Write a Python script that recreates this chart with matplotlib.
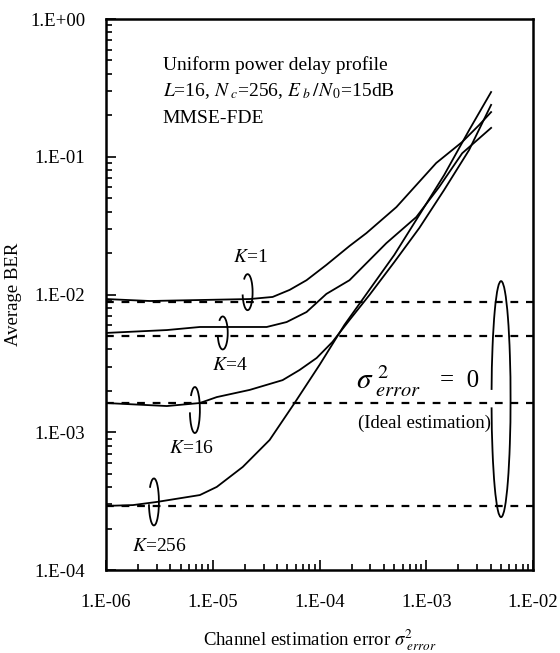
import numpy as np
import matplotlib
matplotlib.use("Agg")
import matplotlib.pyplot as plt
from matplotlib.patches import Arc
from matplotlib.ticker import FuncFormatter, LogLocator, NullFormatter

plt.rcParams['font.family'] = ['Liberation Serif', 'DejaVu Serif']
plt.rcParams['mathtext.fontset'] = 'stix'

# channel estimation error (x) and average BER (y) for each K
k1_x = [1e-6, 2.58e-6, 7.57e-6, 2.22e-5, 3.64e-5, 5.25e-5, 7.56e-5, 1.16e-4, 1.91e-4,
        2.75e-4, 5.25e-4, 1.24e-3, 2.17e-3, 3.13e-3, 4.05e-3]
k1_y = [9.27e-3, 8.97e-3, 9.12e-3, 9.27e-3, 9.6e-3, 1.08e-2, 1.27e-2, 1.64e-2, 2.25e-2,
        2.79e-2, 4.31e-2, 9.01e-2, 0.128, 0.170, 0.211]

k4_x = [1e-6, 3.72e-6, 7.57e-6, 3.2e-5, 4.92e-5, 7.56e-5, 1.16e-4, 1.91e-4, 4.23e-4,
        8.07e-4, 1.32e-3, 2.17e-3, 4.05e-3]
k4_y = [5.26e-3, 5.52e-3, 5.81e-3, 5.81e-3, 6.31e-3, 7.46e-3, 1.01e-2, 1.27e-2, 2.36e-2,
        3.65e-2, 6.03e-2, 0.106, 0.162]

k16_x = [1e-6, 3.72e-6, 7.57e-6, 1.09e-5, 2.22e-5, 4.51e-5, 6.5e-5, 9.4e-5, 1.32e-4,
         1.91e-4, 2.93e-4, 5.02e-4, 8.61e-4, 1.47e-3, 2.52e-3, 4.05e-3]
k16_y = [1.63e-3, 1.55e-3, 1.63e-3, 1.80e-3, 2.03e-3, 2.39e-3, 2.83e-3, 3.46e-3, 4.52e-3,
         6.53e-3, 9.9e-3, 1.72e-2, 3.04e-2, 5.74e-2, 0.112, 0.238]

k256_x = [1e-6, 1.79e-6, 3.0e-6, 7.57e-6, 1.09e-5, 1.91e-5, 3.41e-5, 5.84e-5, 1.0e-4,
          1.71e-4, 2.93e-4, 5.02e-4, 8.61e-4, 1.47e-3, 2.52e-3, 4.05e-3]
k256_y = [2.92e-4, 2.96e-4, 3.12e-4, 3.5e-4, 4.01e-4, 5.6e-4, 8.79e-4, 1.63e-3, 3.08e-3,
          6.01e-3, 1.08e-2, 1.94e-2, 3.78e-2, 7.36e-2, 0.156, 0.295]

# ideal estimation (sigma_error^2 = 0) BER for K = 1, 4, 16, 256
ideal_ber = [8.8e-3, 5.0e-3, 1.63e-3, 2.92e-4]

fig = plt.figure(figsize=(5.6, 6.53), dpi=100)
ax = fig.add_axes([0.1893, 0.1271, 0.7625, 0.8438])

for xs, ys in [(k1_x, k1_y), (k4_x, k4_y), (k16_x, k16_y), (k256_x, k256_y)]:
    ax.plot(xs, ys, color='black', lw=1.3)

for b in ideal_ber:
    ax.plot([1e-6, 1e-2], [b, b], color='black', lw=1.6, ls=(0, (3.5, 3.5)))

ax.set_xscale('log')
ax.set_yscale('log')
ax.set_xlim(1e-6, 1e-2)
ax.set_ylim(1e-4, 1)

fmt = FuncFormatter(lambda v, p: "1.E%+03d" % int(round(np.log10(v))))
ax.xaxis.set_major_formatter(fmt)
ax.yaxis.set_major_formatter(fmt)
ax.xaxis.set_minor_locator(LogLocator(base=10, subs=np.arange(2, 10)))
ax.yaxis.set_minor_locator(LogLocator(base=10, subs=np.arange(2, 10)))
ax.xaxis.set_minor_formatter(NullFormatter())
ax.yaxis.set_minor_formatter(NullFormatter())
ax.tick_params(which='both', direction='in', top=False, right=False, labelsize=13.5, width=1.2)
ax.tick_params(which='major', length=7)
ax.tick_params(which='minor', length=4)
ax.tick_params(axis='x', which='major', pad=17)
ax.tick_params(axis='y', which='major', pad=15)
for s in ax.spines.values():
    s.set_linewidth(1.8)

ax.set_xlabel(r'Channel estimation error $\sigma^{2}_{\ error}$', fontsize=13.5, labelpad=12)
ax.set_ylabel('Average BER', fontsize=13.5, labelpad=6)

ax.text(0.133, 0.916, 'Uniform power delay profile', transform=ax.transAxes,
        fontsize=14, va='center')
ax.text(0.133, 0.869, r'$L$=16, $N_{\ c}$=256, $E_{\ b}\,/N_{\,0}$=15dB', transform=ax.transAxes,
        fontsize=14, va='center')
ax.text(0.133, 0.820, 'MMSE-FDE', transform=ax.transAxes, fontsize=14, va='center')

ax.text(0.338, 0.568, r'$K$=1', transform=ax.transAxes, fontsize=14, ha='center', va='center')
ax.text(0.289, 0.372, r'$K$=4', transform=ax.transAxes, fontsize=14, ha='center', va='center')
ax.text(0.200, 0.221, r'$K$=16', transform=ax.transAxes, fontsize=14, ha='center', va='center')
ax.text(0.126, 0.042, r'$K$=256', transform=ax.transAxes, fontsize=14, ha='center', va='center')

ax.text(0.585, 0.343, r'$\sigma^{\ 2}_{\ error}$', transform=ax.transAxes, fontsize=21, va='center')
ax.text(0.782, 0.343, '=  0', transform=ax.transAxes, fontsize=18, va='center')
ax.text(0.746, 0.267, '(Ideal estimation)', transform=ax.transAxes, fontsize=13.5,
        ha='center', va='center')

# loops around the curves
to_axes = ax.transAxes.inverted()
axw, axh = 427.0, 551.0
loops = [(2.12e-5, 1.04e-2, 10, 36, 200, 470),
         (1.24e-5, 5.26e-3, 10, 33, 200, 470),
         (6.8e-6, 1.45e-3, 10, 46, 200, 470),
         (2.81e-6, 3.12e-4, 10, 47, 200, 470),
         (5.02e-3, 1.74e-3, 19, 236, 214, 503)]
for x, y, w, h, t1, t2 in loops:
    cx, cy = to_axes.transform(ax.transData.transform((x, y)))
    ax.add_patch(Arc((cx, cy), w / axw, h / axh, theta1=t1, theta2=t2,
                     transform=ax.transAxes, color='black', lw=1.3))

fig.savefig('out.png', dpi=100)
